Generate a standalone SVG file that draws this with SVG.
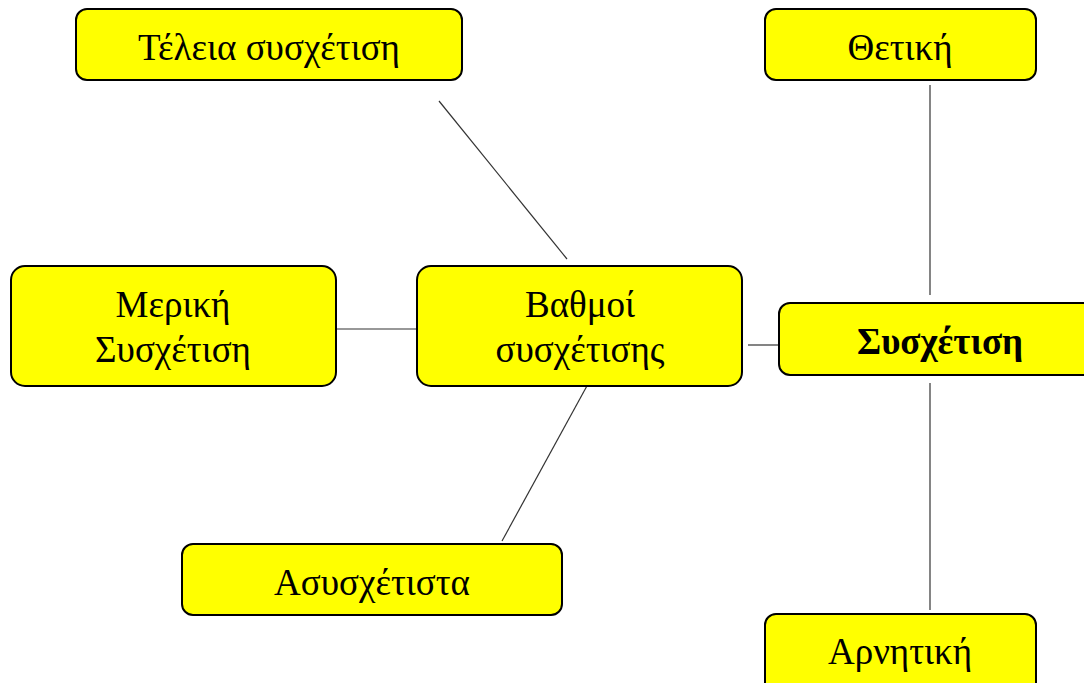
<svg xmlns="http://www.w3.org/2000/svg" width="1084" height="683" viewBox="0 0 1084 683">
<style>
.box{fill:#ffff00;stroke:#000;stroke-width:2}
.t{font-family:"Liberation Serif","Times New Roman",serif;font-size:37px;fill:#000;text-anchor:middle}
.b{font-weight:bold}
.c line{stroke:#333;stroke-width:1.2}
</style>
<rect width="1084" height="683" fill="#fff"/>
<g class="c" id="connectors">
<line x1="439" y1="101" x2="567" y2="259"/>
<line x1="930" y1="85" x2="930" y2="295"/>
<line x1="333" y1="329" x2="417" y2="329"/>
<line x1="748" y1="345" x2="779" y2="345"/>
<line x1="588" y1="384" x2="502" y2="541"/>
<line x1="930" y1="383" x2="930" y2="610"/>
</g>
<g id="n-teleia"><rect class="box" x="76" y="9" width="386" height="71" rx="11"/><text class="t" x="269" y="60">Τέλεια συσχέτιση</text></g>
<g id="n-thetiki"><rect class="box" x="765" y="9" width="271" height="71" rx="11"/><text class="t" x="900" y="60">Θετική</text></g>
<g id="n-meriki"><rect class="box" x="11" y="266" width="325" height="120" rx="14"/><text class="t" x="173" y="317">Μερική</text><text class="t" x="173" y="362">Συσχέτιση</text></g>
<g id="n-vathmoi"><rect class="box" x="417" y="266" width="325" height="120" rx="14"/><text class="t" x="580" y="317">Βαθμοί</text><text class="t" x="580" y="362">συσχέτισης</text></g>
<g id="n-sysxetisi"><rect class="box" x="779" y="303" width="322" height="72" rx="11"/><text class="t b" x="940" y="354">Συσχέτιση</text></g>
<g id="n-asysxetista"><rect class="box" x="182" y="544" width="380" height="71" rx="11"/><text class="t" x="372" y="595">Ασυσχέτιστα</text></g>
<g id="n-arnitiki"><rect class="box" x="765" y="614" width="271" height="80" rx="11"/><text class="t" x="900" y="664">Αρνητική</text></g>
</svg>
